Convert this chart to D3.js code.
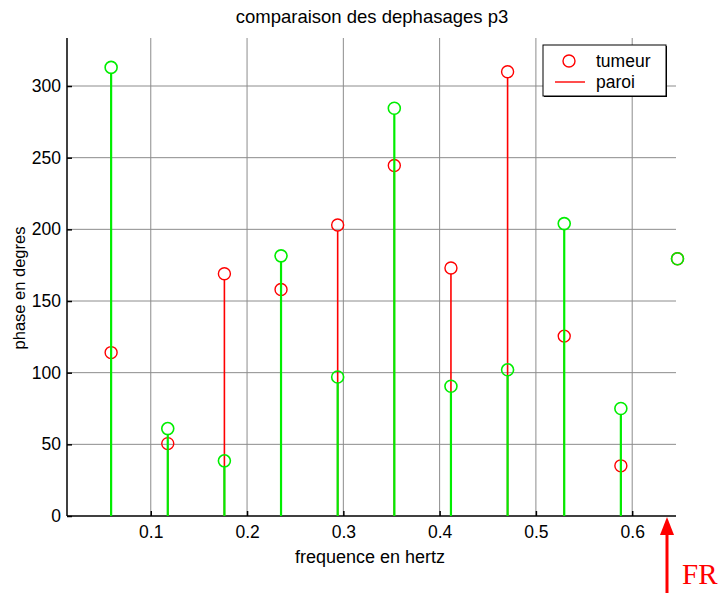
<!DOCTYPE html>
<html><head><meta charset="utf-8">
<script src="https://cdn.jsdelivr.net/npm/d3@7"></script>
<style>body{margin:0;background:#fff;} svg{display:block;}</style>
</head><body>
<script>
const freqs = [1,2,3,4,5,6,7,8,9,10,11].map(k => k/17);
const tumeur = [114, 50.5, 169, 158, 203, 244.5, 173, 310, 125.5, 35, 179.5];
const paroi  = [313, 61, 38.5, 181.5, 97, 284.5, 90.5, 102, 204, 75, 179.5];
const xTicks = [0.1, 0.2, 0.3, 0.4, 0.5, 0.6];
const yTicks = [0, 50, 100, 150, 200, 250, 300];
const title = "comparaison des dephasages p3";
const xLabel = "frequence en hertz";
const yLabel = "phase en degres";
const legendLabels = ["tumeur", "paroi"];

const W = 720, H = 593;
const m = {left: 67, right: 44, top: 38, bottom: 77};
const FONT = "'Liberation Sans', Arial, sans-serif";
const svg = d3.select("body").append("svg").attr("width", W).attr("height", H)
  .style("font-family", FONT);

const x = d3.scaleLinear().domain([0.013, 0.6455]).range([m.left, W - m.right]);
const y = d3.scaleLinear().domain([0, 333.5]).range([H - m.bottom, m.top]);

svg.append("clipPath").attr("id", "clip").append("rect")
  .attr("x", m.left).attr("y", m.top - 10).attr("width", W - m.right - m.left).attr("height", y(0) - m.top + 10);

// grid
const g = svg.append("g");
g.selectAll(".vg").data(xTicks).join("line")
  .attr("x1", d => x(d)).attr("x2", d => x(d)).attr("y1", y(0)).attr("y2", m.top)
  .attr("stroke", "#8c8c8c").attr("stroke-width", 1);
g.selectAll(".hg").data(yTicks.slice(1)).join("line")
  .attr("x1", m.left).attr("x2", W - m.right).attr("y1", d => y(d)).attr("y2", d => y(d))
  .attr("stroke", "#8c8c8c").attr("stroke-width", 1);

// axes
const xAxis = d3.axisBottom(x).tickValues(xTicks).tickSize(-5).tickPadding(10).tickFormat(d3.format(".1f"));
const yAxis = d3.axisLeft(y).tickValues(yTicks).tickSize(-5).tickPadding(6).tickFormat(d3.format("d"));
const gx = svg.append("g").attr("transform", `translate(0,${y(0)})`).call(xAxis);
const gy = svg.append("g").attr("transform", `translate(${m.left},0)`).call(yAxis);
[gx, gy].forEach(a => {
  a.select(".domain").attr("stroke", "#000").attr("stroke-width", 1.5);
  a.selectAll(".tick line").attr("stroke", "#000").attr("stroke-width", 1.5);
  a.selectAll(".tick text").attr("fill", "#000").style("font-size", "17.5px")
   .style("font-family", FONT);
});
gx.select(".domain").attr("d", `M${m.left},0H${W - m.right}`);
gy.select(".domain").attr("d", `M0,${y(0)}V${m.top}`);

// stems
const red = "#ff0000", green = "#00ee00";
const data = freqs.map((f, i) => ({f, t: tumeur[i], p: paroi[i]}));
svg.append("g").attr("clip-path", "url(#clip)").selectAll("line").data(data).join("line")
  .attr("x1", d => x(d.f)).attr("x2", d => x(d.f)).attr("y1", y(0)).attr("y2", d => y(d.t) + 6)
  .attr("stroke", red).attr("stroke-width", 1.6);
svg.append("g").selectAll("circle").data(data).join("circle")
  .attr("cx", d => x(d.f)).attr("cy", d => y(d.t)).attr("r", 6)
  .attr("fill", "none").attr("stroke", red).attr("stroke-width", 1.4);
svg.append("g").attr("clip-path", "url(#clip)").selectAll("line").data(data).join("line")
  .attr("x1", d => x(d.f)).attr("x2", d => x(d.f)).attr("y1", y(0)).attr("y2", d => y(d.p) + 6)
  .attr("stroke", green).attr("stroke-width", 2.2);
svg.append("g").selectAll("circle").data(data).join("circle")
  .attr("cx", d => x(d.f)).attr("cy", d => y(d.p)).attr("r", 6)
  .attr("fill", "none").attr("stroke", green).attr("stroke-width", 1.6);

// title & labels
svg.append("text").attr("x", 372).attr("y", 23).attr("text-anchor", "middle")
  .style("font-size", "18.5px").text(title);
svg.append("text").attr("x", 370).attr("y", 563).attr("text-anchor", "middle")
  .style("font-size", "18px").text(xLabel);
svg.append("text").attr("transform", "translate(25,288) rotate(-90)").attr("text-anchor", "middle")
  .style("font-size", "16.5px").text(yLabel);

// legend
const lg = svg.append("g");
lg.append("rect").attr("x", 544).attr("y", 46).attr("width", 123).attr("height", 51).attr("fill", "#000");
lg.append("rect").attr("x", 543).attr("y", 45).attr("width", 123).attr("height", 51)
  .attr("fill", "#fff").attr("stroke", "#000").attr("stroke-width", 1);
lg.append("circle").attr("cx", 569).attr("cy", 61).attr("r", 6).attr("fill", "none")
  .attr("stroke", red).attr("stroke-width", 1.4);
lg.append("line").attr("x1", 555).attr("x2", 585).attr("y1", 82).attr("y2", 82)
  .attr("stroke", red).attr("stroke-width", 1.4);
lg.append("text").attr("x", 596).attr("y", 67).style("font-size", "17.5px").text(legendLabels[0]);
lg.append("text").attr("x", 596).attr("y", 88).style("font-size", "17.5px").text(legendLabels[1]);

// FR annotation
const fx = 667;
svg.append("line").attr("x1", fx).attr("x2", fx).attr("y1", 593).attr("y2", 532)
  .attr("stroke", red).attr("stroke-width", 3);
svg.append("path").attr("d", `M${fx},517L${fx-7},535L${fx+7},535Z`).attr("fill", red);
svg.append("text").attr("x", 682).attr("y", 584).attr("fill", red)
  .style("font-family", "'Liberation Serif', 'Times New Roman', serif").style("font-size", "29px").text("FR");
</script>
</body></html>
